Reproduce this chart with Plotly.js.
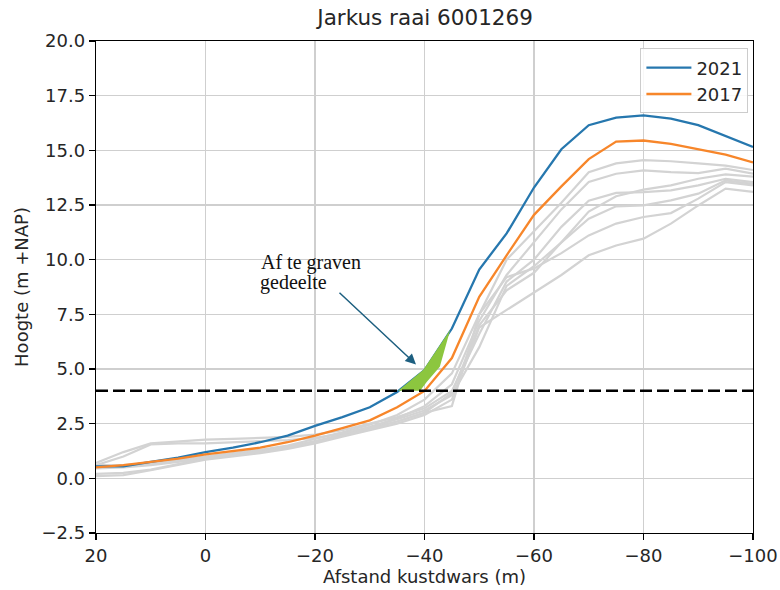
<!DOCTYPE html>
<html>
<head>
<meta charset="utf-8">
<script src="https://cdn.plot.ly/plotly-3.0.1.min.js"></script>
<style>html,body{margin:0;padding:0;background:#fff;}</style>
</head>
<body>
<div id="chart" style="width:780px;height:590px;"></div>
<script>
// distance along transect (m)
const distance = [20, 15, 10, 5, 0, -5, -10, -15, -20, -25, -30, -35, -40, -45, -50, -55, -60, -65, -70, -75, -80, -85, -90, -95, -100];

const height2021 = [0.55, 0.55, 0.75, 0.95, 1.2, 1.4, 1.65, 1.95, 2.4, 2.8, 3.25, 3.95, 4.95, 6.85, 9.55, 11.2, 13.3, 15.05, 16.15, 16.5, 16.6, 16.45, 16.15, 15.65, 15.15];
const height2017 = [0.5, 0.6, 0.75, 0.9, 1.1, 1.25, 1.4, 1.65, 1.95, 2.3, 2.65, 3.25, 4.0, 5.5, 8.3, 10.2, 12.05, 13.35, 14.6, 15.4, 15.45, 15.3, 15.05, 14.8, 14.45];

// older yearly profiles (grey)
const older1 = [0.6, 0.6, 0.7, 0.85, 1.0, 1.15, 1.3, 1.5, 1.8, 2.1, 2.45, 2.9, 3.6, 4.8, 7.5, 10.0, 11.3, 12.6, 14.0, 14.4, 14.55, 14.5, 14.4, 14.3, 14.1];
const older2 = [0.5, 0.55, 0.65, 0.8, 0.95, 1.1, 1.25, 1.45, 1.7, 2.0, 2.35, 2.75, 3.3, 4.3, 7.2, 9.3, 10.8, 12.3, 13.55, 13.93, 14.08, 14.0, 13.96, 14.16, 13.93];
const older3 = [0.7, 1.2, 1.6, 1.7, 1.77, 1.8, 1.86, 1.9, 2.0, 2.2, 2.5, 2.8, 3.2, 4.0, 6.6, 9.0, 10.0, 11.5, 12.7, 13.05, 13.09, 13.17, 13.4, 13.7, 13.55];
const older4 = [0.6, 1.0, 1.55, 1.6, 1.6, 1.65, 1.7, 1.75, 1.85, 2.05, 2.35, 2.7, 3.1, 3.8, 6.0, 8.8, 9.7, 10.8, 11.87, 12.44, 12.48, 12.71, 13.02, 13.63, 13.47];
const older5 = [0.2, 0.25, 0.4, 0.65, 0.9, 1.05, 1.2, 1.4, 1.65, 1.95, 2.3, 2.6, 3.0, 3.3, 7.5, 9.2, 9.6, 10.3, 11.11, 11.65, 11.95, 12.13, 12.79, 13.55, 13.4];
const older6 = [0.1, 0.15, 0.37, 0.6, 0.85, 1.0, 1.15, 1.35, 1.6, 1.9, 2.2, 2.5, 2.9, 3.6, 6.9, 7.7, 8.5, 9.3, 10.2, 10.65, 10.96, 11.65, 12.48, 13.25, 13.1];
const older7 = [0.45, 0.5, 0.6, 0.75, 0.9, 1.05, 1.2, 1.4, 1.65, 1.95, 2.25, 2.6, 3.0, 3.9, 7.0, 8.6, 9.4, 10.8, 12.2, 12.9, 13.2, 13.4, 13.7, 13.9, 13.8];
const olderProfiles = [older1, older2, older3, older4, older5, older6, older7];

// excavation area polygon
const digX = [-35.2, -39.8, -44.7, -42.8, -40.4, -39.2];
const digY = [4.0, 4.97, 6.8, 5.1, 4.4, 4.0];

// reference level
const levelX = [20, -100];
const levelY = [4, 4];

const xTickVals = [20, 0, -20, -40, -60, -80, -100];
const xTickText = ['20', '0', '\u221220', '\u221240', '\u221260', '\u221280', '\u2212100'];
const yTickVals = [-2.5, 0, 2.5, 5, 7.5, 10, 12.5, 15, 17.5, 20];
const yTickText = ['\u22122.5', '0.0', '2.5', '5.0', '7.5', '10.0', '12.5', '15.0', '17.5', '20.0'];

const FONT = 'DejaVu Sans, sans-serif';
const TXT = '#262626';

const traces = [];
olderProfiles.forEach(p => {
  traces.push({x: distance, y: p, mode: 'lines', showlegend: false, hoverinfo: 'skip',
    line: {color: '#d3d3d3', width: 2.2}});
});
traces.push({x: distance, y: height2021, mode: 'lines', name: '2021', line: {color: '#2677ae', width: 2.3}});
traces.push({x: distance, y: height2017, mode: 'lines', name: '2017', line: {color: '#f7862a', width: 2.3}});
traces.push({x: digX, y: digY, mode: 'lines', fill: 'toself', fillcolor: '#8cc63f', line: {width: 0, color: '#8cc63f'}, showlegend: false});
traces.push({x: levelX, y: levelY, mode: 'lines', showlegend: false, line: {color: '#000', width: 2.5, dash: '12px,5px'}});

const axisCommon = {
  showline: true, linecolor: '#000', linewidth: 1.3, mirror: true,
  ticks: 'outside', ticklen: 6, tickwidth: 1.3, tickcolor: '#000',
  showgrid: true, gridcolor: '#cfcfcf', gridwidth: 1.5, zeroline: false,
  tickfont: {family: FONT, size: 18, color: TXT}
};

const layout = {
  width: 780, height: 590,
  margin: {l: 96, r: 27, t: 41, b: 57},
  paper_bgcolor: '#fff', plot_bgcolor: '#fff',
  title: {text: 'Jarkus raai 6001269', font: {family: FONT, size: 21.5, color: TXT}, x: 0.545, xanchor: 'center', y: 0.97, yanchor: 'middle'},
  xaxis: Object.assign({}, axisCommon, {
    range: [20, -100], tickvals: xTickVals, ticktext: xTickText,
    title: {text: 'Afstand kustdwars (m)', font: {family: FONT, size: 18, color: TXT}, standoff: 4}
  }),
  yaxis: Object.assign({}, axisCommon, {
    range: [-2.5, 20], tickvals: yTickVals, ticktext: yTickText,
    title: {text: 'Hoogte (m +NAP)', font: {family: FONT, size: 18, color: TXT}, standoff: 8}
  }),
  legend: {x: 0.993, y: 0.985, xanchor: 'right', yanchor: 'top', itemwidth: 45,
    bgcolor: 'rgba(255,255,255,0.85)', bordercolor: '#cccccc', borderwidth: 1,
    font: {family: FONT, size: 18, color: TXT}},
  showlegend: true,
  annotations: [
    {x: -9.8, y: 9.88, xref: 'x', yref: 'y', text: 'Af te graven', showarrow: false, xanchor: 'left', yanchor: 'middle',
      font: {family: 'Liberation Serif, serif', size: 20, color: '#111'}},
    {x: -9.5, y: 8.96, xref: 'x', yref: 'y', text: 'gedeelte', showarrow: false, xanchor: 'left', yanchor: 'middle',
      font: {family: 'Liberation Serif, serif', size: 20, color: '#111'}},
    {x: -38.45, y: 5.21, xref: 'x', yref: 'y', ax: -24.2, ay: 8.55, axref: 'x', ayref: 'y', text: '',
      showarrow: true, arrowhead: 2, arrowsize: 1.4, arrowwidth: 1.5, arrowcolor: '#1d5f80', standoff: 0}
  ]
};

Plotly.newPlot('chart', traces, layout, {displayModeBar: false, staticPlot: true});
</script>
</body>
</html>
